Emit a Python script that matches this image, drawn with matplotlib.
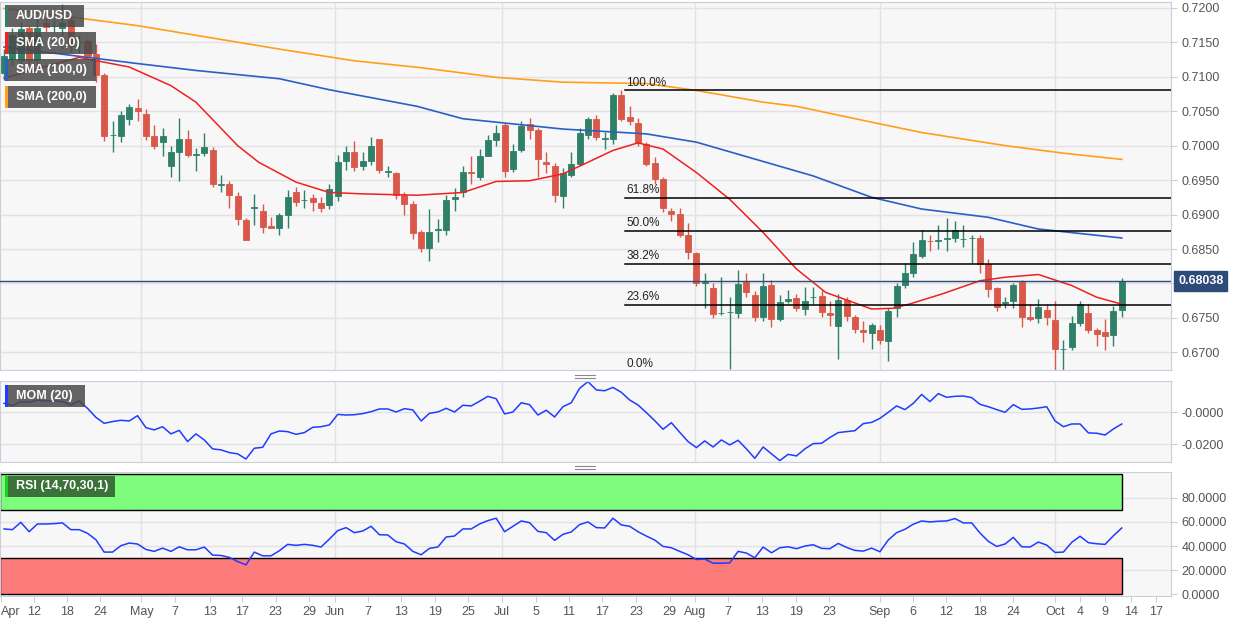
import matplotlib
matplotlib.use("Agg")
import matplotlib.pyplot as plt
from matplotlib.patches import Rectangle
import numpy as np

plt.rcParams["font.family"] = "Liberation Sans"

opens = [.7105,.7125,.7124,.7170,.7124,.7178,.7173,.7170,.7182,.7150,.7152,.7133,.7102,.7015,.7014,.7038,.7055,.7046,.7014,.7005,
 .6970,.6990,.7010,.6987,.6989,.6993,.6943,.6944,.6927,.6892,.6910,.6905,.6884,.6881,.6900,.6932,.6921,.6924,.6917,.6914,
 .6927,.6977,.6990,.6971,.6977,.7009,.6962,.6960,.6928,.6915,.6874,.6852,.6878,.6878,.6922,.6932,.6962,.6954,.6985,.7008,
 .7030,.6966,.6993,.7031,.7022,.6976,.6971,.6927,.6958,.6974,.7015,.7039,.7010,.7009,.7074,.7041,.7033,.7002,.6975,.6951,
 .6905,.6901,.6870,.6844,.6801,.6794,.6757,.6758,.6757,.6802,.6783,.6751,.6798,.6749,.6775,.6779,.6763,.6780,.6782,.6757,
 .6739,.6776,.6752,.6733,.6728,.6733,.6717,.6764,.6798,.6815,.6840,.6862,.6861,.6865,.6866,.6864,.6866,.6866,.6828,.6793,
 .6772,.6774,.6802,.6751,.6750,.6762,.6747,.6705,.6708,.6742,.6757,.6732,.6729,.6725,.6762]
closes = [.7130,.7160,.7169,.7124,.7170,.7172,.7173,.7178,.7145,.7150,.7130,.7102,.7014,.7015,.7045,.7056,.7050,.7014,.7000,.7014,
 .6990,.7010,.6987,.6987,.6998,.6944,.6943,.6929,.6893,.6863,.6910,.6882,.6881,.6900,.6926,.6918,.6921,.6918,.6910,.6937,
 .6976,.6990,.6969,.6977,.6999,.6964,.6962,.6929,.6915,.6873,.6852,.6875,.6878,.6921,.6925,.6961,.6960,.6985,.7008,.7019,
 .6963,.6992,.7028,.7022,.6980,.6973,.6928,.6960,.6974,.7019,.7038,.7012,.7010,.7074,.7039,.7036,.7004,.6974,.6951,.6910,
 .6901,.6871,.6846,.6801,.6801,.6756,.6757,.6758,.6799,.6788,.6751,.6796,.6749,.6773,.6778,.6764,.6775,.6780,.6758,.6755,
 .6776,.6753,.6734,.6729,.6740,.6718,.6760,.6797,.6815,.6843,.6863,.6861,.6863,.6865,.6878,.6864,.6866,.6828,.6792,.6766,
 .6772,.6798,.6752,.6748,.6766,.6752,.6705,.6705,.6742,.6770,.6732,.6727,.6724,.6760,.6804]
highs = [.7140,.7170,.7180,.7175,.7185,.7185,.7182,.7205,.7195,.7160,.7155,.7148,.7105,.7035,.7050,.7060,.7067,.7053,.7030,.7025,
 .7000,.7040,.7022,.6997,.7018,.6998,.6958,.6948,.6932,.6895,.6930,.6915,.6897,.6902,.6935,.6940,.6935,.6930,.6925,.6945,
 .6986,.7000,.7007,.6990,.7012,.7009,.6970,.6962,.6932,.6920,.6878,.6908,.6893,.6929,.6938,.6970,.6985,.6995,.7015,.7030,
 .7033,.7003,.7035,.7040,.7025,.6990,.6975,.6968,.6990,.7025,.7042,.7045,.7020,.7077,.7080,.7058,.7040,.7005,.6983,.6955,
 .6910,.6910,.6888,.6845,.6815,.6800,.6810,.6780,.6820,.6815,.6789,.6815,.6805,.6783,.6790,.6785,.6795,.6795,.6790,.6775,
 .6785,.6780,.6755,.6745,.6742,.6740,.6765,.6800,.6830,.6860,.6877,.6870,.6885,.6895,.6890,.6885,.6870,.6870,.6835,.6795,
 .6780,.6800,.6805,.6770,.6778,.6770,.6775,.6718,.6753,.6775,.6770,.6735,.6748,.6768,.6808]
lows = [.7095,.7115,.7118,.7118,.7120,.7165,.7165,.7140,.7135,.7135,.7125,.7092,.7007,.6990,.7005,.7030,.7035,.7008,.6995,.6985,
 .6955,.6948,.6983,.6963,.6985,.6940,.6932,.6910,.6885,.6863,.6885,.6873,.6880,.6870,.6880,.6913,.6910,.6905,.6903,.6908,
 .6920,.6965,.6963,.6964,.6972,.6960,.6955,.6922,.6900,.6865,.6845,.6832,.6860,.6870,.6905,.6925,.6945,.6950,.6995,.7000,
 .6955,.6962,.6990,.7010,.6955,.6960,.6918,.6910,.6955,.6970,.7010,.7008,.6995,.7003,.7035,.7030,.7000,.6970,.6945,.6903,
 .6890,.6868,.6835,.6797,.6765,.6750,.6755,.6676,.6750,.6780,.6745,.6745,.6737,.6745,.6772,.6760,.6755,.6770,.6752,.6738,
 .6690,.6745,.6728,.6715,.6705,.6712,.6688,.6752,.6793,.6810,.6837,.6847,.6850,.6847,.6860,.6853,.6830,.6815,.6780,.6760,
 .6765,.6765,.6737,.6745,.6742,.6740,.6672,.6672,.6703,.6738,.6728,.6710,.6703,.6710,.6752]

sma20_idx = [0, 9, 15, 20, 23, 28, 30.5, 35, 39, 43, 49.5, 55, 59, 63, 67, 69.5, 73, 76, 79, 83, 87, 91, 95, 98.5, 104, 106.5, 108.5, 112.5, 117, 120, 124, 128, 131, 134]
sma20_val = [.7098, .7128, .7114, .7087, .7063, .7000, .6976, .6947, .6932, .6930, .6928, .6932, .6948, .6949, .6959, .6973, .6993, .7004, .6995, .6961, .6922, .6874, .6821, .6787, .6763, .6764, .6770, .6785, .6804, .6809, .6813, .6797, .6780, .6770]
sma100_idx = [0, 16, 23, 33, 39, 49.5, 55, 67, 77, 83, 97, 104, 110, 118, 124, 134]
sma100_val = [.7143, .7119, .7109, .7097, .7081, .7057, .7039, .7024, .7017, .7005, .6956, .6925, .6908, .6896, .6879, .6866]
sma200_idx = [0, 16, 33, 42, 50, 59, 67, 77, 83, 91, 95, 104, 110, 120, 127, 134]
sma200_val = [.7199, .7174, .7140, .7123, .7113, .7099, .7092, .7090, .7080, .7063, .7057, .7034, .7019, .7000, .6989, .6980]

fib_high = 0.7080
fib_low = 0.6673
fib_levels = [1.0, 0.618, 0.5, 0.382, 0.236, 0.0]
fib_labels = ["100.0%", "61.8%", "50.0%", "38.2%", "23.6%", "0.0%"]
fib_start = 74.5
last_price = 0.68038

mom = [.0056,.0042,.0067,.0063,.0077,.0071,.0071,.0067,.0046,.0071,
 .0025,-.0031,-.0069,-.0058,-.0050,-.0054,-.0021,-.0096,-.0110,-.0090,
 -.0135,-.0113,-.0183,-.0135,-.0173,-.0229,-.0235,-.0252,-.0260,-.0292,
 -.0225,-.0219,-.0135,-.0117,-.0121,-.0138,-.0127,-.0094,-.0090,-.0079,
 -.0013,-.0017,-.0015,-.0008,.0004,.0021,.0021,.0002,.0023,.0015,
 -.0054,-.0006,.0002,.0025,.0002,.0044,.0040,.0069,.0100,.0085,
 -.0010,.0002,.0060,.0048,-.0017,.0013,-.0029,.0035,.0060,.0150,
 .0192,.0140,
 .0135,.0156,.0125,.0077,.0046,-.0002,-.0052,-.0106,-.0065,-.0125,
 -.0183,-.0221,-.0179,-.0217,-.0173,-.0204,-.0175,-.0229,-.0288,-.0217,
 -.0260,-.0302,-.0263,-.0273,-.0229,-.0196,-.0194,-.0158,-.0127,-.0121,
 -.0115,-.0071,-.0063,-.0038,.0000,.0040,.0017,.0056,.0112,.0067,
 .0117,.0094,.0100,.0102,.0092,.0050,.0035,.0017,.0000,.0048,
 .0019,.0021,.0027,.0035,-.0054,-.0090,-.0073,-.0073,-.0129,-.0131,
 -.0142,-.0104,-.0073]
rsi = [54.2,53.6,59.7,51.9,58.3,58.3,58.6,59.2,53.6,53.6,
 50.6,45.3,35.0,35.0,40.3,42.5,41.7,37.2,35.6,38.3,
 35.6,39.4,36.9,36.9,39.2,32.5,32.2,30.6,27.2,24.4,
 35.0,31.9,31.9,36.1,41.4,40.6,41.4,40.6,39.2,45.8,
 52.8,55.3,51.1,52.5,56.4,49.4,49.2,43.6,41.7,35.6,
 32.8,38.1,39.2,47.5,48.3,54.2,54.2,58.3,61.1,63.1,
 51.9,56.4,60.8,59.4,52.2,51.1,44.7,49.7,51.7,57.8,
 60.0,55.3,
 55.0,63.1,57.5,56.4,51.9,48.3,45.0,39.7,38.6,35.6,
 32.8,28.9,29.2,25.8,25.8,26.1,35.6,34.2,30.3,39.2,
 34.4,38.6,39.4,37.8,40.0,41.1,38.1,37.8,42.2,38.9,
 36.4,35.8,38.3,35.3,45.0,51.1,53.9,58.1,60.8,60.0,
 60.6,60.8,62.8,59.2,59.2,50.8,43.9,39.7,41.7,47.2,
 39.4,39.2,43.3,40.8,34.7,35.0,43.1,48.1,42.8,41.9,
 41.4,48.6,55.0]

tick_pos = [-0.4, 3.54, 7.54, 11.5, 16.47, 20.49, 24.63, 28.53, 32.54, 36.56, 39.68, 43.59, 47.59, 51.67, 55.62, 59.7, 63.73, 67.73, 71.69,
            75.77, 79.81, 82.84, 86.8, 90.9, 94.9, 98.87, 104.96, 108.95, 112.94, 117.0, 120.97, 126.0, 129.0, 132.0, 135.1, 138.1]
tick_lab = ["Apr", "12", "18", "24", "May", "7", "13", "17", "23", "29", "Jun", "7", "13", "19", "25", "Jul", "5", "11", "17",
            "23", "29", "Aug", "7", "13", "19", "23", "Sep", "6", "12", "18", "24", "Oct", "4", "9", "14", "17"]
month_pos = [16.47, 39.68, 59.7, 82.84, 104.96, 126.0]
price_ticks = [0.6700, 0.6750, 0.6800, 0.6850, 0.6900, 0.6950, 0.7000, 0.7050, 0.7100, 0.7150, 0.7200]

GREEN = "#2f8069"
RED = "#d9584a"
BG = "#f7f7f7"
GRID = "#e2e2e6"
SPINE = "#c9cedf"
TXT = "#555555"

W, H = 1242, 621
fig = plt.figure(figsize=(W/100, H/100), dpi=100)
XL = (-0.49, 139.9)

def mk(top, bot):
    ax = fig.add_axes([0, 1 - bot/H, 1171/W, (bot - top)/H])
    ax.set_facecolor(BG)
    ax.set_xlim(*XL)
    for s in ax.spines.values():
        s.set_color(SPINE)
    ax.yaxis.tick_right()
    ax.tick_params(axis="y", colors=SPINE, labelcolor=TXT, labelsize=9, length=4)
    ax.set_xticks([])
    for m in month_pos:
        ax.axvline(m, color=GRID, lw=1, zorder=0)
    return ax

# main
ax = mk(2, 370)
ax.set_ylim(0.66745, 0.72083)
ax.set_yticks(price_ticks)
ax.set_yticklabels(["" if abs(t - 0.68) < 1e-6 else "%.4f" % t for t in price_ticks])
for t in price_ticks:
    ax.axhline(t, color=GRID, lw=1, zorder=0)
idx = np.arange(len(closes))
for i in idx:
    o, c, h, l = opens[i], closes[i], highs[i], lows[i]
    col = GREEN if c >= o else RED
    ax.vlines(i, l, h, color=col, lw=1, zorder=2)
    b = min(o, c); hgt = max(abs(c - o), 0.00006)
    ax.add_patch(Rectangle((i - 0.36, b), 0.72, hgt, facecolor=col, edgecolor=col, lw=0.6, zorder=3))
ax.plot(sma200_idx, sma200_val, color="#ff9f1a", lw=1.2, zorder=4)
ax.plot(sma100_idx, sma100_val, color="#2a5fc4", lw=1.2, zorder=4)
ax.plot(sma20_idx, sma20_val, color="#f02020", lw=1.1, zorder=4)
for lv, lb in zip(fib_levels, fib_labels):
    y = fib_low + (fib_high - fib_low) * lv
    ax.plot([fib_start, XL[1]], [y, y], color="black", lw=1.1, zorder=5)
    ax.text(fib_start + 0.1, y + 0.0002, lb, fontsize=8.5, color="#222222", va="bottom", ha="left", zorder=6)
ax.axhline(last_price, color="#2d4a78", lw=1, zorder=5)
ax.text(1.006, (last_price - 0.66745) / (0.72083 - 0.66745), "%.5f" % last_price, transform=ax.transAxes,
        fontsize=9, fontweight="bold", color="white", va="center", ha="left",
        bbox=dict(boxstyle="square,pad=0.3", fc="#2d4a78", ec="#2d4a78"), clip_on=False, zorder=10)

def legend_box(top, h, w, label, stripe, fc="#4a4a4a"):
    fig.patches.append(Rectangle((5/W, 1 - (top + h)/H), w/W, h/H, transform=fig.transFigure,
                                 facecolor=fc, alpha=0.85, edgecolor="none", zorder=20))
    fig.patches.append(Rectangle((5/W, 1 - (top + h)/H), 3/W, h/H, transform=fig.transFigure,
                                 facecolor=stripe, edgecolor="none", zorder=21))
    fig.text(16/W, 1 - (top + h/2)/H, label, color="white", fontsize=9, fontweight="bold", va="center", ha="left", zorder=22)

legend_box(5, 22, 79, "AUD/USD", GREEN)
legend_box(32, 22, 91, "SMA (20,0)", "#f02020")
legend_box(59, 22, 91, "SMA (100,0)", "#2a5fc4")
legend_box(86, 22, 91, "SMA (200,0)", "#ff9f1a")

# MOM
ax2 = mk(381, 462)
ax2.set_ylim(-0.0311, 0.0196)
ax2.set_yticks([-0.02, 0.0])
ax2.set_yticklabels(["-0.0200", "-0.0000"])
for t in [-0.02, 0.0]:
    ax2.axhline(t, color=GRID, lw=1, zorder=0)
ax2.plot(np.arange(len(mom)), mom, color="#1f3cff", lw=1.1)
legend_box(385, 22, 80, "MOM (20)", "#1f3cff")

# RSI
ax3 = mk(472, 596)
ax3.set_ylim(-1.4, 101.4)
ax3.set_yticks([0, 20, 40, 60, 80])
ax3.set_yticklabels(["%.4f" % t for t in [0, 20, 40, 60, 80]])
for t in [20, 40, 60, 80]:
    ax3.axhline(t, color=GRID, lw=1, zorder=0)
last = len(closes) - 1
ax3.add_patch(Rectangle((XL[0], 70), last - XL[0], 30, facecolor="#7dfc7d", edgecolor="black", lw=1, zorder=1))
ax3.add_patch(Rectangle((XL[0], 0), last - XL[0], 30, facecolor="#fc7b7b", edgecolor="black", lw=1, zorder=1))
ax3.plot(np.arange(len(rsi)), rsi, color="#1f3cff", lw=1.1, zorder=3)
legend_box(476, 21, 110, "RSI (14,70,30,1)", "#22cc22", fc="#2f5a2f")
ax3.set_xticks(tick_pos)
ax3.set_xticklabels(tick_lab)
ax3.tick_params(axis="x", colors=SPINE, labelcolor=TXT, labelsize=9, length=4)
ax3.get_xticklabels()[0].set_horizontalalignment("left")

# separators
for yy in (376, 467):
    for dy in (-1.5, 1.5):
        fig.add_artist(plt.Line2D([575/W, 595/W], [1 - (yy + dy)/H] * 2, color="#888888", lw=0.8))

fig.savefig("out.png", dpi=100)
